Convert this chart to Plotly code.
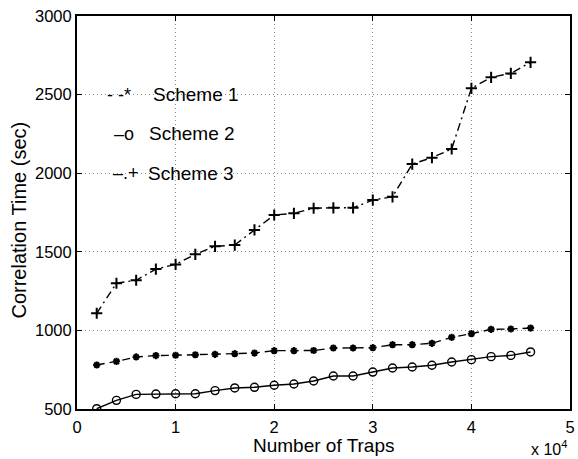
import plotly.graph_objects as go

# Data (x in units of 10^4 traps)
x_traps = [0.2, 0.4, 0.6, 0.8, 1.0, 1.2, 1.4, 1.6, 1.8, 2.0, 2.2, 2.4,
           2.6, 2.8, 3.0, 3.2, 3.4, 3.6, 3.8, 4.0, 4.2, 4.4, 4.6]
scheme1 = [780, 803, 831, 840, 842, 845, 848, 852, 856, 871, 871, 872,
           888, 888, 890, 909, 909, 918, 956, 979, 1007, 1009, 1015]
scheme2 = [502, 555, 593, 595, 597, 597, 617, 634, 638, 651, 659, 678,
           710, 710, 735, 761, 767, 778, 799, 814, 833, 841, 863]
scheme3 = [1109, 1300, 1319, 1390, 1420, 1484, 1535, 1543, 1639, 1734, 1745, 1777,
           1780, 1780, 1829, 1850, 2058, 2099, 2154, 2540, 2610, 2635, 2705]

legend_prefix = ["- -*", "\u2013o", "\u2013.+"]
legend_names = ["Scheme 1", "Scheme 2", "Scheme 3"]
legend_y = [2500, 2250, 2000]
legend_prefix_end = [0.565, 0.595, 0.645]
legend_name_start = [0.75, 0.71, 0.70]

x_ticks = [0, 1, 2, 3, 4, 5]
y_ticks = [500, 1000, 1500, 2000, 2500, 3000]

FONT = "Liberation Sans, Arial, Helvetica, sans-serif"

fig = go.Figure()
fig.add_trace(go.Scatter(
    x=x_traps, y=scheme1, mode="lines+markers", name="Scheme 1",
    line=dict(color="black", width=1.4, dash="8px,5px"),
    marker=dict(symbol="asterisk-open", size=6, color="black",
                line=dict(color="black", width=2))))
fig.add_trace(go.Scatter(
    x=x_traps, y=scheme2, mode="lines+markers", name="Scheme 2",
    line=dict(color="black", width=1.4),
    marker=dict(symbol="circle-open", size=8, color="black",
                line=dict(color="black", width=1.4))))
fig.add_trace(go.Scatter(
    x=x_traps, y=scheme3, mode="lines+markers", name="Scheme 3",
    line=dict(color="black", width=1.4, dash="8px,4px,2px,4px"),
    marker=dict(symbol="cross-thin-open", size=8, color="black",
                line=dict(color="black", width=2))))

annotations = []
for p, n, yy, xp, xn in zip(legend_prefix, legend_names, legend_y,
                            legend_prefix_end, legend_name_start):
    annotations.append(dict(x=xp, y=yy, xref="x", yref="y", text=p,
                            showarrow=False, xanchor="right", yanchor="middle",
                            font=dict(family=FONT, size=18, color="black")))
    annotations.append(dict(x=xn, y=yy, xref="x", yref="y", text=n,
                            showarrow=False, xanchor="left", yanchor="middle",
                            font=dict(family=FONT, size=19, color="black")))

annotations.append(dict(x=0.501, y=-0.092, xref="paper", yref="paper",
                        text="Number of Traps", showarrow=False,
                        xanchor="center", yanchor="middle",
                        font=dict(family=FONT, size=19, color="black")))
annotations.append(dict(x=-0.1185, y=0.481, xref="paper", yref="paper",
                        text="Correlation Time (sec)", showarrow=False,
                        textangle=-90, xanchor="center", yanchor="middle",
                        font=dict(family=FONT, size=20, color="black")))
annotations.append(dict(x=0.998, y=-0.099, xref="paper", yref="paper",
                        text="x 10<sup>4</sup>", showarrow=False,
                        xanchor="right", yanchor="middle",
                        font=dict(family=FONT, size=16, color="black")))

axis_common = dict(
    showline=True, linecolor="black", linewidth=2, mirror="allticks",
    ticks="inside", ticklen=5, tickwidth=1.2, tickcolor="black",
    showgrid=True, gridcolor="#8c8c8c", gridwidth=1, griddash="1px,3px",
    zeroline=False,
    tickfont=dict(family=FONT, size=16.5, color="black"),
)

fig.update_layout(
    width=578, height=459,
    margin=dict(l=77, r=3, t=16, b=50),
    paper_bgcolor="white", plot_bgcolor="white",
    showlegend=False,
    annotations=annotations,
    xaxis=dict(range=[0, 5], tickvals=x_ticks, ticklabelstandoff=2, **axis_common),
    yaxis=dict(range=[500, 3000], tickvals=y_ticks, **axis_common),
)

fig.write_html("out.html")
